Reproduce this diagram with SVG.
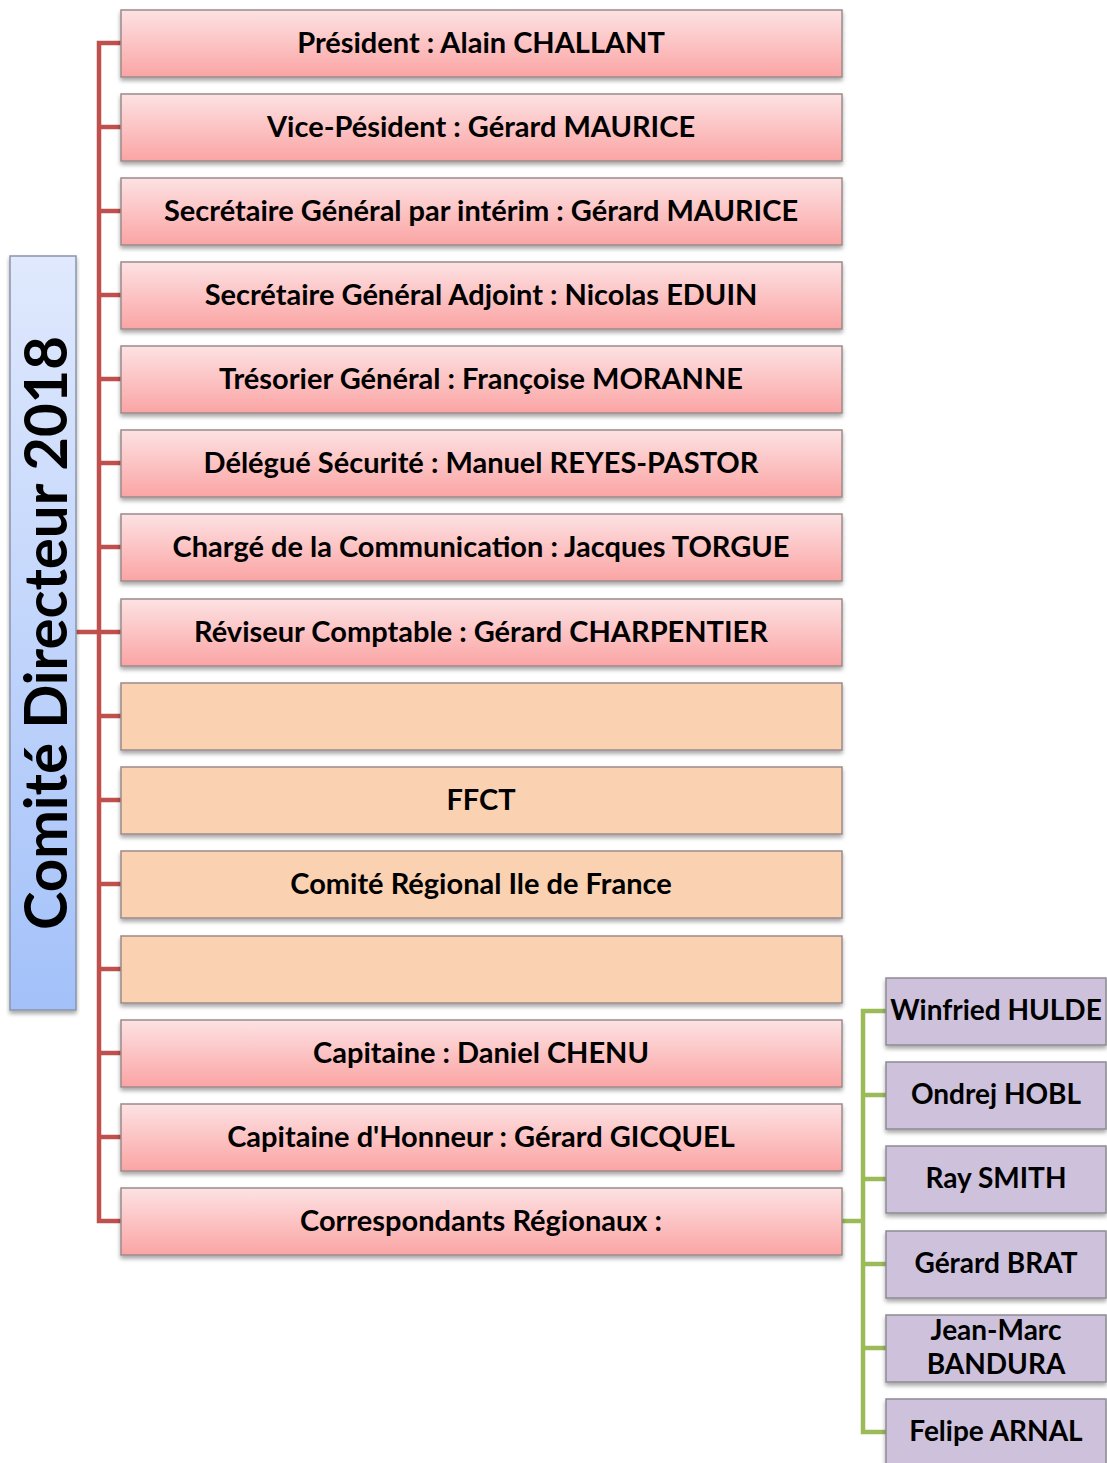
<svg xmlns="http://www.w3.org/2000/svg" width="1107" height="1463" viewBox="0 0 1107 1463">
<style>
.t{font-family:Lato,"Open Sans","Liberation Sans",sans-serif;font-weight:bold;font-size:29px;fill:#000;text-anchor:middle;dominant-baseline:central}
.s{font-size:28px}
.pk{fill:url(#gp);stroke:#9c8a8a;stroke-width:1.5}
.or{fill:#fad1b1;stroke:#9c8a8a;stroke-width:1.5}
.pu{fill:#cdc1db;stroke:#8e8a94;stroke-width:1.5}
.red{stroke:#c0504d;stroke-width:4.5;fill:none}
.grn{stroke:#9bbb59;stroke-width:4.5;fill:none}
</style>
<defs>
<linearGradient id="gp" x1="0" y1="0" x2="0" y2="1"><stop offset="0" stop-color="#fde2e3"/><stop offset="1" stop-color="#fba4a4"/></linearGradient>
<linearGradient id="gb" x1="0" y1="0" x2="0" y2="1"><stop offset="0" stop-color="#e0e9fd"/><stop offset="1" stop-color="#a3c1f9"/></linearGradient>
<filter id="sh" x="-5%" y="-10%" width="110%" height="130%"><feDropShadow dx="0" dy="3" stdDeviation="2" flood-color="#000" flood-opacity="0.35"/></filter>
</defs>
<g id="connectors">
<path class="red" d="M121 43H99V1221H121 M99 127H121 M99 211H121 M99 295H121 M99 379H121 M99 463H121 M99 547H121 M76 632H121 M99 716H121 M99 800H121 M99 884H121 M99 969H121 M99 1053H121 M99 1137H121"/>
<path class="grn" d="M842 1221H863 M886 1011H863V1432H886 M863 1095H886 M863 1179H886 M863 1264H886 M863 1348H886"/>
</g>
<g id="root"><rect x="10" y="256" width="66" height="754" fill="url(#gb)" stroke="#8a95ad" stroke-width="1.5" filter="url(#sh)"/>
<text class="t" transform="translate(44 633) rotate(-90)" style="font-size:60px" textLength="594" lengthAdjust="spacingAndGlyphs">Comité Directeur 2018</text></g>
<g id="n1"><rect class="pk" x="121" y="10" width="721" height="67" filter="url(#sh)"/><text class="t" x="481" y="41">Président : Alain CHALLANT</text></g>
<g id="n2"><rect class="pk" x="121" y="94" width="721" height="67" filter="url(#sh)"/><text class="t" x="481" y="125">Vice-Pésident : Gérard MAURICE</text></g>
<g id="n3"><rect class="pk" x="121" y="178" width="721" height="67" filter="url(#sh)"/><text class="t" x="481" y="209">Secrétaire Général par intérim : Gérard MAURICE</text></g>
<g id="n4"><rect class="pk" x="121" y="262" width="721" height="67" filter="url(#sh)"/><text class="t" x="481" y="293">Secrétaire Général Adjoint : Nicolas EDUIN</text></g>
<g id="n5"><rect class="pk" x="121" y="346" width="721" height="67" filter="url(#sh)"/><text class="t" x="481" y="377">Trésorier Général : Françoise MORANNE</text></g>
<g id="n6"><rect class="pk" x="121" y="430" width="721" height="67" filter="url(#sh)"/><text class="t" x="481" y="461">Délégué Sécurité : Manuel REYES-PASTOR</text></g>
<g id="n7"><rect class="pk" x="121" y="514" width="721" height="67" filter="url(#sh)"/><text class="t" x="481" y="545">Chargé de la Communication : Jacques TORGUE</text></g>
<g id="n8"><rect class="pk" x="121" y="599" width="721" height="67" filter="url(#sh)"/><text class="t" x="481" y="630">Réviseur Comptable : Gérard CHARPENTIER</text></g>
<g id="n9"><rect class="or" x="121" y="683" width="721" height="67" filter="url(#sh)"/></g>
<g id="n10"><rect class="or" x="121" y="767" width="721" height="67" filter="url(#sh)"/><text class="t" x="481" y="798">FFCT</text></g>
<g id="n11"><rect class="or" x="121" y="851" width="721" height="67" filter="url(#sh)"/><text class="t" x="481" y="882">Comité Régional Ile de France</text></g>
<g id="n12"><rect class="or" x="121" y="936" width="721" height="67" filter="url(#sh)"/></g>
<g id="n13"><rect class="pk" x="121" y="1020" width="721" height="67" filter="url(#sh)"/><text class="t" x="481" y="1051">Capitaine : Daniel CHENU</text></g>
<g id="n14"><rect class="pk" x="121" y="1104" width="721" height="67" filter="url(#sh)"/><text class="t" x="481" y="1135">Capitaine d'Honneur : Gérard GICQUEL</text></g>
<g id="n15"><rect class="pk" x="121" y="1188" width="721" height="67" filter="url(#sh)"/><text class="t" x="481" y="1219">Correspondants Régionaux :</text></g>
<g id="c1"><rect class="pu" x="886" y="978" width="220" height="67" filter="url(#sh)"/><text class="t s" x="996" y="1009">Winfried HULDE</text></g>
<g id="c2"><rect class="pu" x="886" y="1062" width="220" height="67" filter="url(#sh)"/><text class="t s" x="996" y="1093">Ondrej HOBL</text></g>
<g id="c3"><rect class="pu" x="886" y="1146" width="220" height="67" filter="url(#sh)"/><text class="t s" x="996" y="1177">Ray SMITH</text></g>
<g id="c4"><rect class="pu" x="886" y="1231" width="220" height="67" filter="url(#sh)"/><text class="t s" x="996" y="1262">Gérard BRAT</text></g>
<g id="c5"><rect class="pu" x="886" y="1315" width="220" height="67" filter="url(#sh)"/><text class="t s" x="996" y="1329">Jean-Marc</text><text class="t s" x="996" y="1363">BANDURA</text></g>
<g id="c6"><rect class="pu" x="886" y="1399" width="220" height="67" filter="url(#sh)"/><text class="t s" x="996" y="1430">Felipe ARNAL</text></g>
</svg>
